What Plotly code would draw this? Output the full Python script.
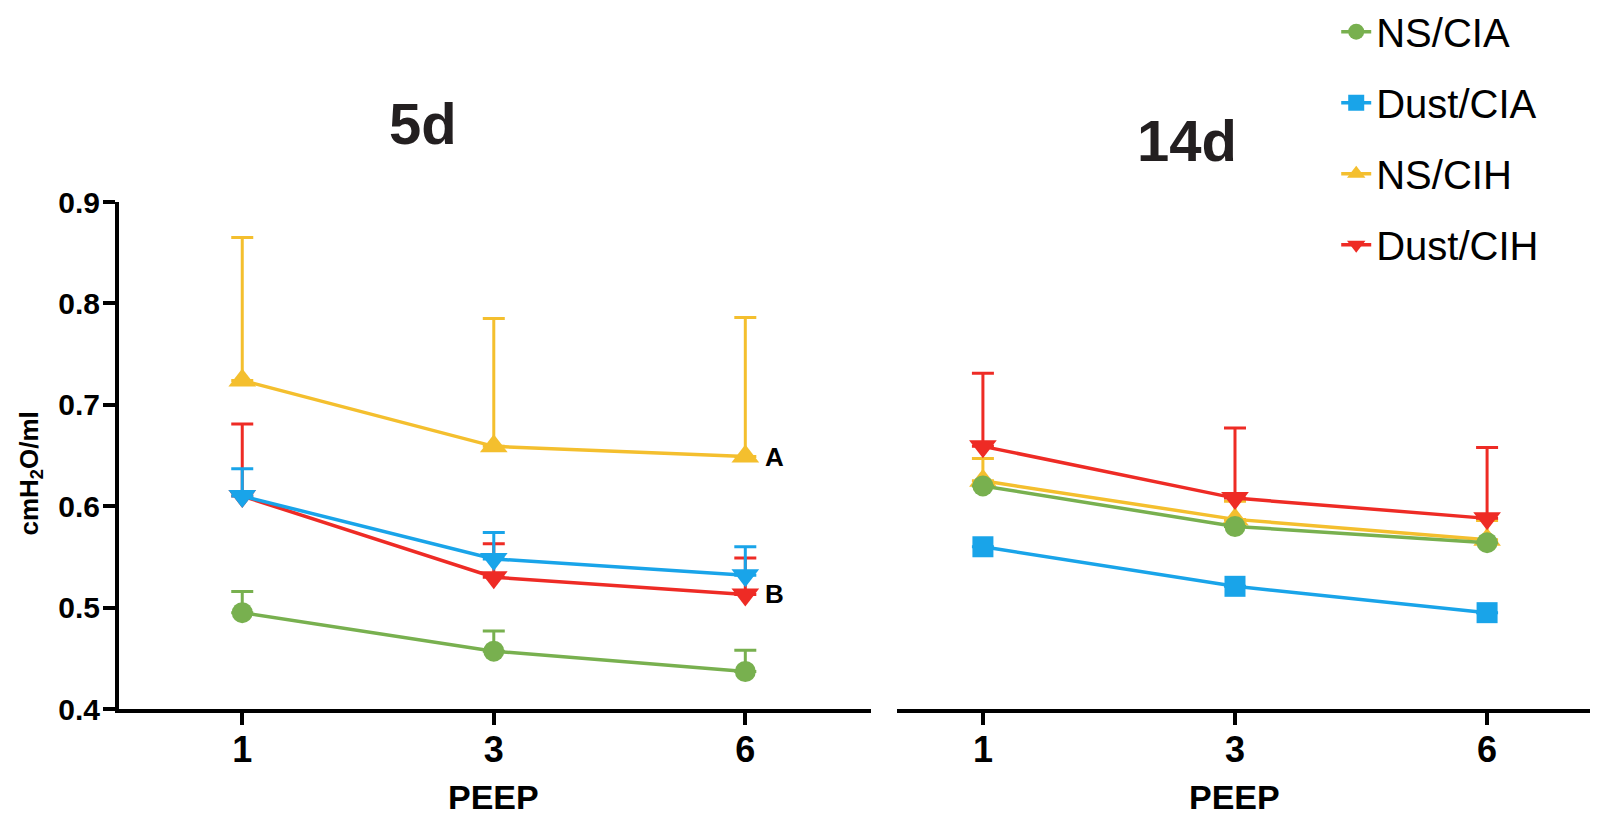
import plotly.graph_objects as go

peep = ["1", "3", "6"]
series = ["NS/CIA", "Dust/CIA", "NS/CIH", "Dust/CIH"]

# 5d panel: means and upper error (SEM)
ns_cia_5d = [0.495, 0.457, 0.437]
ns_cia_5d_err = [0.021, 0.020, 0.021]
dust_cia_5d = [0.610, 0.548, 0.532]
dust_cia_5d_err = [0.027, 0.026, 0.028]
ns_cih_5d = [0.724, 0.659, 0.649]
ns_cih_5d_err = [0.141, 0.126, 0.137]
dust_cih_5d = [0.610, 0.530, 0.513]
dust_cih_5d_err = [0.071, 0.033, 0.036]

# 14d panel
ns_cia_14d = [0.620, 0.580, 0.564]
ns_cia_14d_err = [0.0, 0.0, 0.0]
dust_cia_14d = [0.560, 0.521, 0.495]
dust_cia_14d_err = [0.0, 0.0, 0.0]
ns_cih_14d = [0.625, 0.587, 0.567]
ns_cih_14d_err = [0.022, 0.018, 0.019]
dust_cih_14d = [0.659, 0.608, 0.588]
dust_cih_14d_err = [0.072, 0.069, 0.070]

green = "#78B04F"
blue = "#19A4E9"
yellow = "#F4BF2E"
red = "#EE2B25"
FONT = "Liberation Sans, Arial, sans-serif"

fig = go.Figure()


def add(x_ax, y_ax, y, err, color, symbol, size, name, show, rank):
    fig.add_trace(go.Scatter(
        x=peep, y=y, mode="lines+markers", name=name,
        xaxis=x_ax, yaxis=y_ax,
        line=dict(color=color, width=3.5),
        marker=dict(color=color, symbol=symbol, size=size, line=dict(width=0)),
        error_y=dict(type="data", symmetric=False, array=err,
                     arrayminus=[0] * len(err), color=color,
                     thickness=3, width=11, visible=True),
        legendgroup=name, showlegend=show, legendrank=rank,
    ))


# left panel (5d)
add("x", "y", ns_cia_5d, ns_cia_5d_err, green, "circle", 21, series[0], False, 1)
add("x", "y", ns_cih_5d, ns_cih_5d_err, yellow, "triangle-up", 24, series[2], False, 3)
add("x", "y", dust_cih_5d, dust_cih_5d_err, red, "triangle-down", 24, series[3], False, 4)
add("x", "y", dust_cia_5d, dust_cia_5d_err, blue, "triangle-down", 24, series[1], False, 2)

# right panel (14d)
add("x2", "y2", ns_cih_14d, ns_cih_14d_err, yellow, "triangle-up", 24, series[2], True, 3)
add("x2", "y2", ns_cia_14d, ns_cia_14d_err, green, "circle", 21, series[0], True, 1)
add("x2", "y2", dust_cia_14d, dust_cia_14d_err, blue, "square", 21, series[1], True, 2)
add("x2", "y2", dust_cih_14d, dust_cih_14d_err, red, "triangle-down", 24, series[3], True, 4)

axis_common = dict(
    type="category", categoryorder="array", categoryarray=peep,
    showline=True, linecolor="black", linewidth=4,
    ticks="outside", ticklen=12, tickwidth=4, tickcolor="black",
    tickfont=dict(family=FONT, size=36, color="black", weight="bold"),
    ticklabelstandoff=-6,
    showgrid=False, zeroline=False, fixedrange=True,
)

fig.update_layout(
    width=1590, height=811,
    margin=dict(l=111, r=0, t=194, b=110, autoexpand=False),
    plot_bgcolor="white", paper_bgcolor="white",
    font=dict(family=FONT, color="black"),
    xaxis=dict(domain=[0, 0.5085], range=[-0.49, 2.5], **axis_common),
    xaxis2=dict(domain=[0.526, 1.0], range=[-0.341, 2.44], anchor="y2", **axis_common),
    yaxis=dict(range=[0.4, 0.9], dtick=0.1, tickformat=".1f",
               showline=True, linecolor="black", linewidth=4,
               ticks="outside", ticklen=12, tickwidth=4, tickcolor="black",
               tickfont=dict(family=FONT, size=30, color="black", weight="bold"),
               ticklabelstandoff=-3,
               showgrid=False, zeroline=False, fixedrange=True),
    yaxis2=dict(range=[0.4, 0.9], anchor="x2", showline=False, showticklabels=False,
                ticks="", showgrid=False, zeroline=False, fixedrange=True),
    showlegend=True,
    legend=dict(x=0.823, y=1.40, xanchor="left", yanchor="top",
                font=dict(family=FONT, size=40, color="black"),
                tracegroupgap=16, bgcolor="rgba(0,0,0,0)", itemsizing="trace"),
)

annotations = [
    dict(text="<b>5d</b>", x=0.2055, y=1.154, xref="paper", yref="paper",
         showarrow=False, font=dict(size=58, family=FONT, color="#231F20"),
         xanchor="center", yanchor="middle"),
    dict(text="<b>14d</b>", x=0.722, y=1.122, xref="paper", yref="paper",
         showarrow=False, font=dict(size=58, family=FONT, color="#231F20"),
         xanchor="center", yanchor="middle"),
    dict(text="<b>cmH<sub>2</sub>O/ml</b>", x=-0.060, y=0.465, xref="paper", yref="paper",
         textangle=-90, showarrow=False, font=dict(size=26, family=FONT, color="black"),
         xanchor="center", yanchor="middle"),
    dict(text="<b>PEEP</b>", x=1, y=-0.1736, xref="x", yref="paper",
         showarrow=False, font=dict(size=34, family=FONT, color="black"),
         xanchor="center", yanchor="middle"),
    dict(text="<b>PEEP</b>", x=1, y=-0.1736, xref="x2", yref="paper",
         showarrow=False, font=dict(size=34, family=FONT, color="black"),
         xanchor="center", yanchor="middle"),
    dict(text="<b>A</b>", x=2, y=ns_cih_5d[2], xref="x", yref="y", xshift=29,
         showarrow=False, font=dict(size=26, family=FONT, color="black"),
         xanchor="center", yanchor="middle"),
    dict(text="<b>B</b>", x=2, y=dust_cih_5d[2], xref="x", yref="y", xshift=29,
         showarrow=False, font=dict(size=26, family=FONT, color="black"),
         xanchor="center", yanchor="middle"),
]
fig.update_layout(annotations=annotations)

fig.write_html("out.html")
